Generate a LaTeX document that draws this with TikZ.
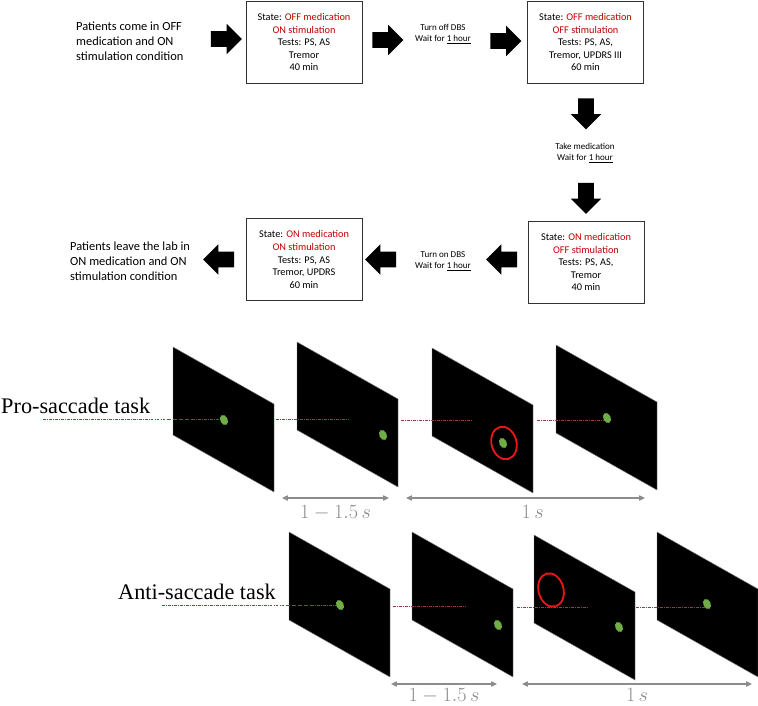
\documentclass[tikz,border=0pt]{standalone}
\usepackage{fontspec}
\setmainfont{Carlito}
\newfontfamily\taskfont{Liberation Serif}
\usetikzlibrary{shapes.arrows,arrows.meta,positioning}

\definecolor{statered}{RGB}{192,0,0}
\definecolor{dotgreen}{RGB}{112,173,71}
\definecolor{ringred}{RGB}{232,22,22}
\definecolor{fixred}{RGB}{150,60,60}
\definecolor{timegray}{RGB}{140,140,140}

\tikzset{
  statebox/.style={draw=black!80,line width=0.8pt,minimum width=3.48cm,minimum height=2.46cm,
    align=center,inner sep=0pt,font=\fontsize{8.8}{10.7}\selectfont},
  blockarrow/.style={single arrow,fill=black,inner xsep=0pt,inner ysep=0.23cm,minimum height=0.93cm,
    minimum width=0pt,single arrow head extend=0.22cm},
  waittext/.style={align=center,inner sep=0pt,font=\fontsize{7.7}{9.2}\selectfont},
  patienttext/.style={align=left,anchor=west,inner sep=0pt,font=\fontsize{10.6}{12.8}\selectfont},
  screen/.pic={\filldraw[fill=black,draw=black!50,line width=0.4pt] (0,0) -- (101,57) -- (101,145) -- (0,88) -- cycle;},
  fixdot/.style={fill=dotgreen},
  cue/.style={draw=ringred,line width=1.6pt},
  fixline/.style={draw=fixred,line width=0.4pt,dash pattern=on 2.5pt off 1pt on 0.6pt off 1pt},
  timespan/.style={draw=timegray,line width=0.9pt,{Triangle[length=5pt,width=4.5pt]}-{Triangle[length=5pt,width=4.5pt]}},
  spanlabel/.style={text=timegray,font=\fontsize{16}{18}\selectfont,inner sep=0pt},
  tasklabel/.style={anchor=base west,inner sep=0pt,font=\taskfont\fontsize{19}{22}\selectfont}
}

\begin{document}
\begin{tikzpicture}[x=0.03cm,y=-0.03cm]
\useasboundingbox (0,0) rectangle (758,706);

\node[patienttext] (start) at (76,41) {Patients come in OFF\\medication and ON\\stimulation condition};
\node[blockarrow] (a1) at (222.5,39) {};
\node[statebox] (s1) at (304,42) {State: \textcolor{statered}{OFF medication}\\\textcolor{statered}{ON stimulation}\\Tests: PS, AS\\Tremor\\40 min};
\node[blockarrow] (a2) at (384,40) {};
\node[waittext] (w1) at (443,34) {Turn off DBS\\Wait for \underline{1 hour}};
\node[blockarrow] (a3) at (502,41) {};
\node[statebox] (s2) at (585.5,42) {State: \textcolor{statered}{OFF medication}\\\textcolor{statered}{OFF stimulation}\\Tests: PS, AS,\\Tremor, UPDRS III\\60 min};
\node[blockarrow,rotate=-90] (a4) at (586,110) {};
\node[waittext] (w2) at (585,153) {Take medication\\Wait for \underline{1 hour}};
\node[blockarrow,rotate=-90] (a5) at (586,194.5) {};
\node[statebox] (s3) at (586,262) {State: \textcolor{statered}{ON medication}\\\textcolor{statered}{OFF stimulation}\\Tests: PS, AS,\\Tremor\\40 min};
\node[blockarrow,rotate=180] (a6) at (505.5,259.5) {};
\node[waittext] (w3) at (443,261) {Turn on DBS\\Wait for \underline{1 hour}};
\node[blockarrow,rotate=180] (a7) at (384.5,259.5) {};
\node[statebox] (s4) at (304,259.5) {State: \textcolor{statered}{ON medication}\\\textcolor{statered}{ON stimulation}\\Tests: PS, AS\\Tremor, UPDRS\\60 min};
\node[blockarrow,rotate=180] (a8) at (222.5,259.5) {};
\node[patienttext] (finish) at (70,261) {Patients leave the lab in\\ON medication and ON\\stimulation condition};

\node[tasklabel] (pro) at (1,413) {Pro-saccade task};
\node[tasklabel] (anti) at (118,599) {Anti-saccade task};

\pic at (173,347) {screen};
\pic at (297,342) {screen};
\pic at (432,348) {screen};
\pic at (556,345) {screen};
\pic at (289,532) {screen};
\pic at (412,532) {screen};
\pic at (534,535) {screen};
\pic at (657,532) {screen};

\coordinate (pro fix) at (43,419);
\coordinate (p1) at (224,419);
\coordinate (p2a) at (276,419);
\coordinate (p2b) at (348,419);
\coordinate (p3a) at (401,420);
\coordinate (p3b) at (472,420);
\coordinate (p4a) at (537,420);
\coordinate (p4b) at (607,420);
\draw[fixline] (pro fix) -- (p1);
\draw[fixline] (p2a) -- (p2b);
\draw[fixline] (p3a) -- (p3b);
\draw[fixline] (p4a) -- (p4b);

\coordinate (anti fix) at (162,605);
\coordinate (q1) at (340,605);
\coordinate (q2a) at (393,606);
\coordinate (q2b) at (465,606);
\coordinate (q3a) at (517,607);
\coordinate (q3b) at (588,607);
\coordinate (q4a) at (636,607);
\coordinate (q4b) at (707,607);
\draw[fixline] (anti fix) -- (q1);
\draw[fixline] (q2a) -- (q2b);
\draw[fixline] (q3a) -- (q3b);
\draw[fixline] (q4a) -- (q4b);

\fill[fixdot,rotate around={25:(224,420)}] (224,420) ellipse [x radius=3.7,y radius=5.3];
\fill[fixdot,rotate around={25:(383,435)}] (383,435) ellipse [x radius=3.7,y radius=5.3];
\fill[fixdot,rotate around={25:(503,443)}] (503,443) ellipse [x radius=3.7,y radius=5.3];
\fill[fixdot,rotate around={25:(607,418)}] (607,418) ellipse [x radius=3.7,y radius=5.3];
\draw[cue,rotate around={15:(504,443)}] (504,443) ellipse [x radius=12.5,y radius=16.5];

\fill[fixdot,rotate around={25:(340,605)}] (340,605) ellipse [x radius=3.7,y radius=5.3];
\fill[fixdot,rotate around={25:(498,625)}] (498,625) ellipse [x radius=3.7,y radius=5.3];
\fill[fixdot,rotate around={25:(619,627)}] (619,627) ellipse [x radius=3.7,y radius=5.3];
\fill[fixdot,rotate around={25:(707,604)}] (707,604) ellipse [x radius=3.7,y radius=5.3];
\draw[cue,rotate around={15:(551,590)}] (551,590) ellipse [x radius=12.5,y radius=17];

\coordinate (t1a) at (282,498);
\coordinate (t1b) at (389,498);
\coordinate (t2a) at (406,498);
\coordinate (t2b) at (645,498);
\draw[timespan] (t1a) -- node[spanlabel,below=0.2cm] {$1-1.5\,s$} (t1b);
\draw[timespan] (t2a) -- node[spanlabel,below=0.2cm,pos=0.53] {$1\,s$} (t2b);

\coordinate (u1a) at (391,684);
\coordinate (u1b) at (497,684);
\coordinate (u2a) at (522,684);
\coordinate (u2b) at (752,684);
\draw[timespan] (u1a) -- node[spanlabel,below=0.12cm] {$1-1.5\,s$} (u1b);
\draw[timespan] (u2a) -- node[spanlabel,below=0.12cm] {$1\,s$} (u2b);
\end{tikzpicture}
\end{document}
